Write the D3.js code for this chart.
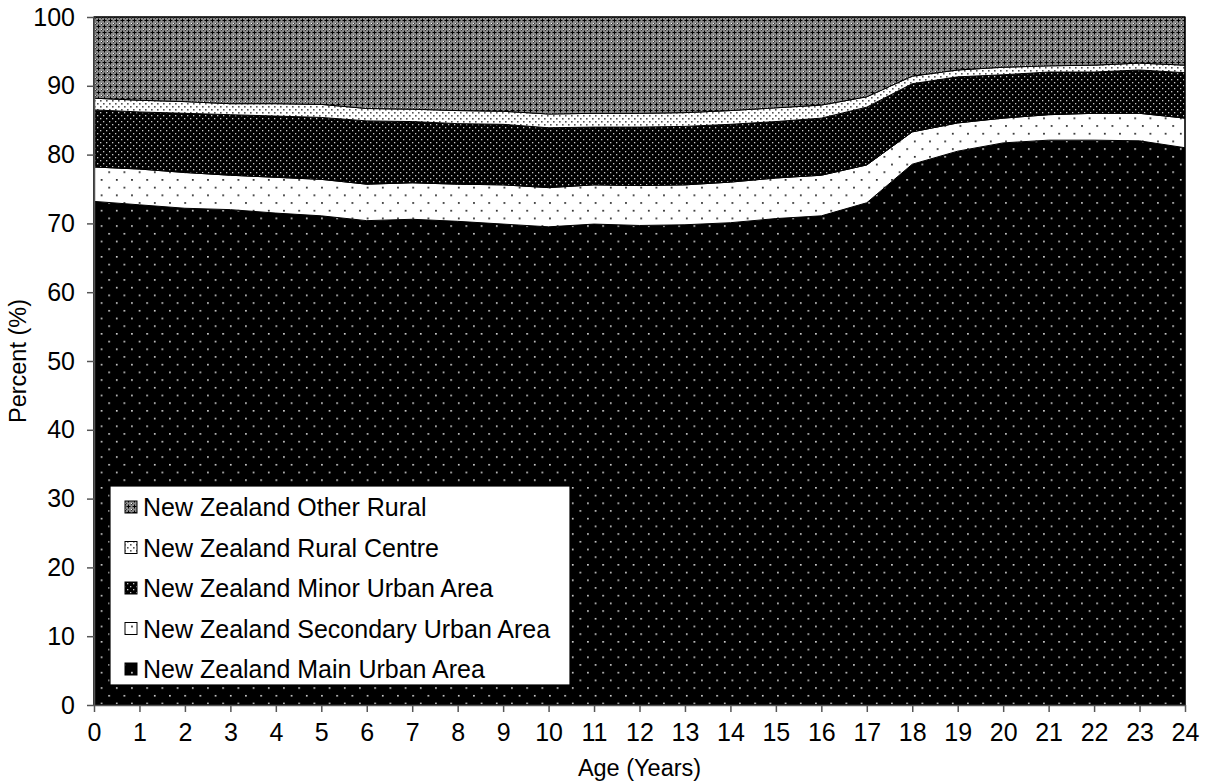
<!DOCTYPE html>
<html><head><meta charset="utf-8">
<script src="https://cdn.jsdelivr.net/npm/d3@7"></script>
<style>body{margin:0;background:#fff;font-family:"Liberation Sans",Arial,sans-serif;}</style>
</head><body>
<svg id="chart" width="1205" height="781"></svg>
<script>
const ages = d3.range(0, 25);
const mainUrban      = [73.2,72.7,72.2,72.0,71.5,71.1,70.4,70.6,70.3,69.9,69.5,69.9,69.7,69.8,70.1,70.7,71.1,73.0,78.6,80.5,81.7,82.1,82.1,82.0,81.0];
const secondaryUrban = [5.0,5.2,5.2,5.0,5.2,5.3,5.3,5.3,5.4,5.7,5.7,5.7,5.8,5.8,5.9,5.9,5.9,5.5,4.7,4.1,3.6,3.7,3.9,4.0,4.3];
const minorUrban     = [8.3,8.3,8.6,8.8,8.9,9.0,9.2,8.9,8.8,8.8,8.7,8.4,8.5,8.5,8.4,8.2,8.3,8.4,7.0,6.7,6.3,6.2,6.0,6.3,6.6];
const ruralCentre    = [1.7,1.7,1.7,1.6,1.8,1.9,1.8,1.8,1.9,1.9,2.0,2.0,2.0,2.0,2.0,2.0,1.9,1.5,1.1,1.0,1.1,0.9,1.0,1.0,1.1];
const otherRural     = [11.8,12.1,12.3,12.6,12.6,12.7,13.3,13.4,13.6,13.7,14.1,14.0,14.0,13.9,13.6,13.2,12.8,11.6,8.6,7.7,7.3,7.1,7.0,6.7,7.0];
const seriesNames = ["New Zealand Main Urban Area","New Zealand Secondary Urban Area","New Zealand Minor Urban Area","New Zealand Rural Centre","New Zealand Other Rural"];
const seriesKeys = ["main","secondary","minor","centre","other"];
const yTicks = [0,10,20,30,40,50,60,70,80,90,100];

const rows = ages.map((a,i)=>({age:a, main:mainUrban[i], secondary:secondaryUrban[i], minor:minorUrban[i], centre:ruralCentre[i], other:otherRural[i]}));

const FONT = "'Liberation Sans',Arial,sans-serif";
const svg = d3.select("#chart");
const m = {l:94, r:1185, t:17, b:705};
const x = d3.scaleLinear().domain([0,24]).range([m.l, m.r]);
const y = d3.scaleLinear().domain([0,100]).range([m.b, m.t]);

// patterns
const defs = svg.append("defs");
function pat(id, w, h, bg, draw){
  const p = defs.append("pattern").attr("id",id).attr("patternUnits","userSpaceOnUse").attr("width",w).attr("height",h);
  p.append("rect").attr("width",w).attr("height",h).attr("fill",bg);
  draw(p);
}
pat("p-main", 15.2, 15.4, "#000", p=>{
  p.append("rect").attr("x",2).attr("y",2).attr("width",1.5).attr("height",1.5).attr("fill","#fff");
  p.append("rect").attr("x",9.6).attr("y",9.7).attr("width",1.5).attr("height",1.5).attr("fill","#fff");
});
pat("p-secondary", 15.2, 15.4, "#fff", p=>{
  p.append("rect").attr("x",2).attr("y",2).attr("width",1.6).attr("height",1.6).attr("fill","#000");
  p.append("rect").attr("x",9.6).attr("y",9.7).attr("width",1.6).attr("height",1.6).attr("fill","#000");
});
pat("p-minor", 6, 6, "#000", p=>{
  p.append("rect").attr("x",1).attr("y",1).attr("width",1.3).attr("height",1.3).attr("fill","#c8c8c8");
  p.append("rect").attr("x",4).attr("y",4).attr("width",1.3).attr("height",1.3).attr("fill","#c8c8c8");
});
pat("p-centre", 6, 6, "#fff", p=>{
  p.append("rect").attr("x",1).attr("y",1).attr("width",1.6).attr("height",1.6).attr("fill","#555");
  p.append("rect").attr("x",4).attr("y",4).attr("width",1.6).attr("height",1.6).attr("fill","#555");
});
pat("p-other", 6, 6, "#8a8a8a", p=>{
  p.append("rect").attr("x",0.5).attr("y",2).attr("width",4).attr("height",1).attr("fill","#000");
  p.append("rect").attr("x",2).attr("y",0.5).attr("width",1).attr("height",4).attr("fill","#000");
  p.append("rect").attr("x",5).attr("y",5).attr("width",1).attr("height",1).attr("fill","#fff");
  p.append("rect").attr("x",5).attr("y",0).attr("width",1).attr("height",1).attr("fill","#333");
  p.append("rect").attr("x",0).attr("y",5).attr("width",1).attr("height",1).attr("fill","#333");
});

const stack = d3.stack().keys(seriesKeys);
const layers = stack(rows);
const area = d3.area().x(d=>x(d.data.age)).y0(d=>y(d[0])).y1(d=>y(d[1]));

svg.append("g").selectAll("path").data(layers).join("path")
  .attr("d", area)
  .attr("fill", d=>`url(#p-${d.key})`)
  .attr("stroke","#000").attr("stroke-width",1);

// frame
svg.append("rect").attr("x",m.l).attr("y",m.t).attr("width",m.r-m.l).attr("height",m.b-m.t)
  .attr("fill","none").attr("stroke","#000").attr("stroke-width",1.2);

// axes
const yAxis = svg.append("g").attr("transform",`translate(${m.l},0)`)
  .call(d3.axisLeft(y).tickValues(yTicks).tickSize(7).tickPadding(12).tickSizeOuter(0));
const xAxis = svg.append("g").attr("transform",`translate(0,${m.b})`)
  .call(d3.axisBottom(x).tickValues(ages).tickSize(7).tickPadding(11).tickSizeOuter(0));
[yAxis,xAxis].forEach(g=>{
  g.select(".domain").attr("stroke","#555").attr("stroke-width",1.5);
  g.selectAll(".tick line").attr("stroke","#555").attr("stroke-width",1.5);
  g.selectAll("text").attr("font-family",FONT).attr("font-size",25).attr("fill","#000");
});

svg.append("text").attr("x",(m.l+m.r)/2).attr("y",776).attr("text-anchor","middle")
  .attr("font-family",FONT).attr("font-size",23.5).text("Age (Years)");
svg.append("text").attr("transform",`translate(26,${(m.t+m.b)/2}) rotate(-90)`).attr("text-anchor","middle")
  .attr("font-family",FONT).attr("font-size",23.5).text("Percent (%)");

// legend
const lg = svg.append("g");
lg.append("rect").attr("x",110).attr("y",486).attr("width",460).attr("height",199)
  .attr("fill","#fff").attr("stroke","#000").attr("stroke-width",1.2);
const legendOrder = [4,3,2,1,0];
legendOrder.forEach((si,i)=>{
  const cy = 507 + i*40.5;
  lg.append("rect").attr("x",125).attr("y",cy-6).attr("width",12).attr("height",12)
    .attr("fill",`url(#p-${seriesKeys[si]})`).attr("stroke","#000").attr("stroke-width",1);
  lg.append("text").attr("x",143).attr("y",cy).attr("dy","0.36em")
    .attr("font-family",FONT).attr("font-size",25).text(seriesNames[si]);
});
</script>
</body></html>
